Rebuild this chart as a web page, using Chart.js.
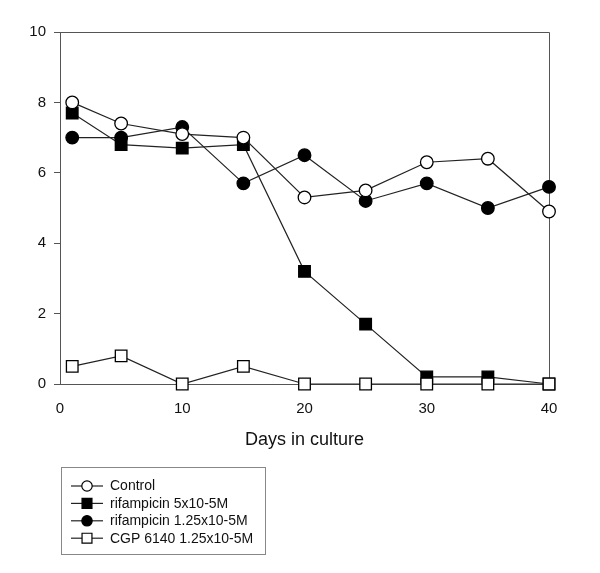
<!DOCTYPE html>
<html>
<head>
<meta charset="utf-8">
<script src="https://cdn.jsdelivr.net/npm/chart.js@4.4.1/dist/chart.umd.min.js"></script>
<style>
  html, body { margin: 0; padding: 0; background: #fff; }
  #wrap { width: 600px; height: 573px; position: relative; }
</style>
</head>
<body>
<div id="wrap"><canvas id="c" width="600" height="573"></canvas></div>
<script>
// Data
const days = [1, 5, 10, 15, 20, 25, 30, 35, 40];
const seriesNames = ["Control", "rifampicin 5x10-5M", "rifampicin 1.25x10-5M", "CGP 6140 1.25x10-5M"];
const control = [8.0, 7.4, 7.1, 7.0, 5.3, 5.5, 6.3, 6.4, 4.9];
const rifampicin5 = [7.7, 6.8, 6.7, 6.8, 3.2, 1.7, 0.2, 0.2, 0.0];
const rifampicin125 = [7.0, 7.0, 7.3, 5.7, 6.5, 5.2, 5.7, 5.0, 5.6];
const cgp6140 = [0.5, 0.8, 0.0, 0.5, 0.0, 0.0, 0.0, 0.0, 0.0];
const xTickValues = [0, 10, 20, 30, 40];
const yTickValues = [0, 2, 4, 6, 8, 10];
const xTitle = "Days in culture";

const toPts = arr => days.map((d, i) => ({ x: d, y: arr[i] }));

const FONT = "'Liberation Sans', Arial, Helvetica, sans-serif";
const LINE = '#222';

const styles = [
  { pointStyle: 'circle', bg: '#fff', radius: 6.3, order: 1 },
  { pointStyle: 'rect', bg: '#000', radius: 8.2, order: 2 },
  { pointStyle: 'circle', bg: '#000', radius: 6.3, order: 3 },
  { pointStyle: 'rect', bg: '#fff', radius: 8.2, order: 0 }
];
const values = [control, rifampicin5, rifampicin125, cgp6140];

const datasets = seriesNames.map((name, i) => ({
  label: name,
  data: toPts(values[i]),
  borderColor: LINE,
  borderWidth: 1.2,
  pointStyle: styles[i].pointStyle,
  pointRadius: styles[i].radius,
  pointBackgroundColor: styles[i].bg,
  pointBorderColor: '#000',
  pointBorderWidth: 1.3,
  order: styles[i].order,
  tension: 0,
  fill: false,
  clip: false
}));

const boxPlugin = {
  id: 'boxPlugin',
  beforeDatasetsDraw(chart) {
    const { ctx, chartArea: a } = chart;
    ctx.save();
    ctx.strokeStyle = '#555';
    ctx.lineWidth = 1;
    ctx.beginPath();
    ctx.moveTo(a.left, a.top + 0.5);
    ctx.lineTo(a.right + 0.5, a.top + 0.5);
    ctx.lineTo(a.right + 0.5, a.bottom);
    ctx.stroke();
    ctx.restore();
  }
};

const legendPlugin = {
  id: 'legendPlugin',
  afterDraw(chart) {
    const { ctx } = chart;
    ctx.save();
    ctx.strokeStyle = '#888';
    ctx.lineWidth = 1;
    ctx.strokeRect(61.5, 467.5, 204, 87);
    chart.data.datasets.forEach((ds, i) => {
      const y = 486 + i * 17.4;
      ctx.strokeStyle = LINE;
      ctx.lineWidth = 1.2;
      ctx.beginPath();
      ctx.moveTo(71, y);
      ctx.lineTo(103, y);
      ctx.stroke();
      ctx.fillStyle = ds.pointBackgroundColor;
      ctx.strokeStyle = '#000';
      ctx.lineWidth = 1.2;
      Chart.helpers.drawPoint(ctx, {
        pointStyle: ds.pointStyle,
        radius: ds.pointStyle === 'rect' ? 7 : 5.2,
        borderWidth: 1.2,
        rotation: 0
      }, 87, y);
      ctx.fillStyle = '#111';
      ctx.font = "14px " + FONT;
      ctx.textBaseline = 'middle';
      ctx.textAlign = 'left';
      ctx.fillText(ds.label, 110, y + 0.5);
    });
    ctx.restore();
  }
};

new Chart(document.getElementById('c'), {
  type: 'line',
  data: { datasets },
  plugins: [boxPlugin, legendPlugin],
  options: {
    responsive: false,
    animation: false,
    events: [],
    layout: { padding: { left: 0, top: 32, right: 51, bottom: 119 } },
    plugins: { legend: { display: false }, tooltip: { enabled: false } },
    scales: {
      x: {
        type: 'linear',
        min: 0, max: 40,
        afterBuildTicks: s => { s.ticks = xTickValues.map(v => ({ value: v })); },
        afterFit: s => { s.height = 70; },
        grid: { display: true, drawOnChartArea: false, drawTicks: false, color: '#555' },
        border: { display: true, color: '#555', width: 1 },
        ticks: { color: '#111', font: { size: 15, family: FONT }, padding: 16, maxRotation: 0 },
        title: { display: true, text: xTitle, color: '#111', font: { size: 18, family: FONT }, padding: { top: 0, bottom: 3 } }
      },
      y: {
        min: 0, max: 10,
        afterBuildTicks: s => { s.ticks = yTickValues.map(v => ({ value: v })); },
        afterFit: s => { s.width = 60; },
        grid: { display: true, drawOnChartArea: false, drawTicks: true, tickLength: 6, color: '#555' },
        border: { display: true, color: '#555', width: 1 },
        ticks: { color: '#111', font: { size: 15, family: FONT }, padding: 8 }
      }
    }
  }
});
</script>
</body>
</html>
